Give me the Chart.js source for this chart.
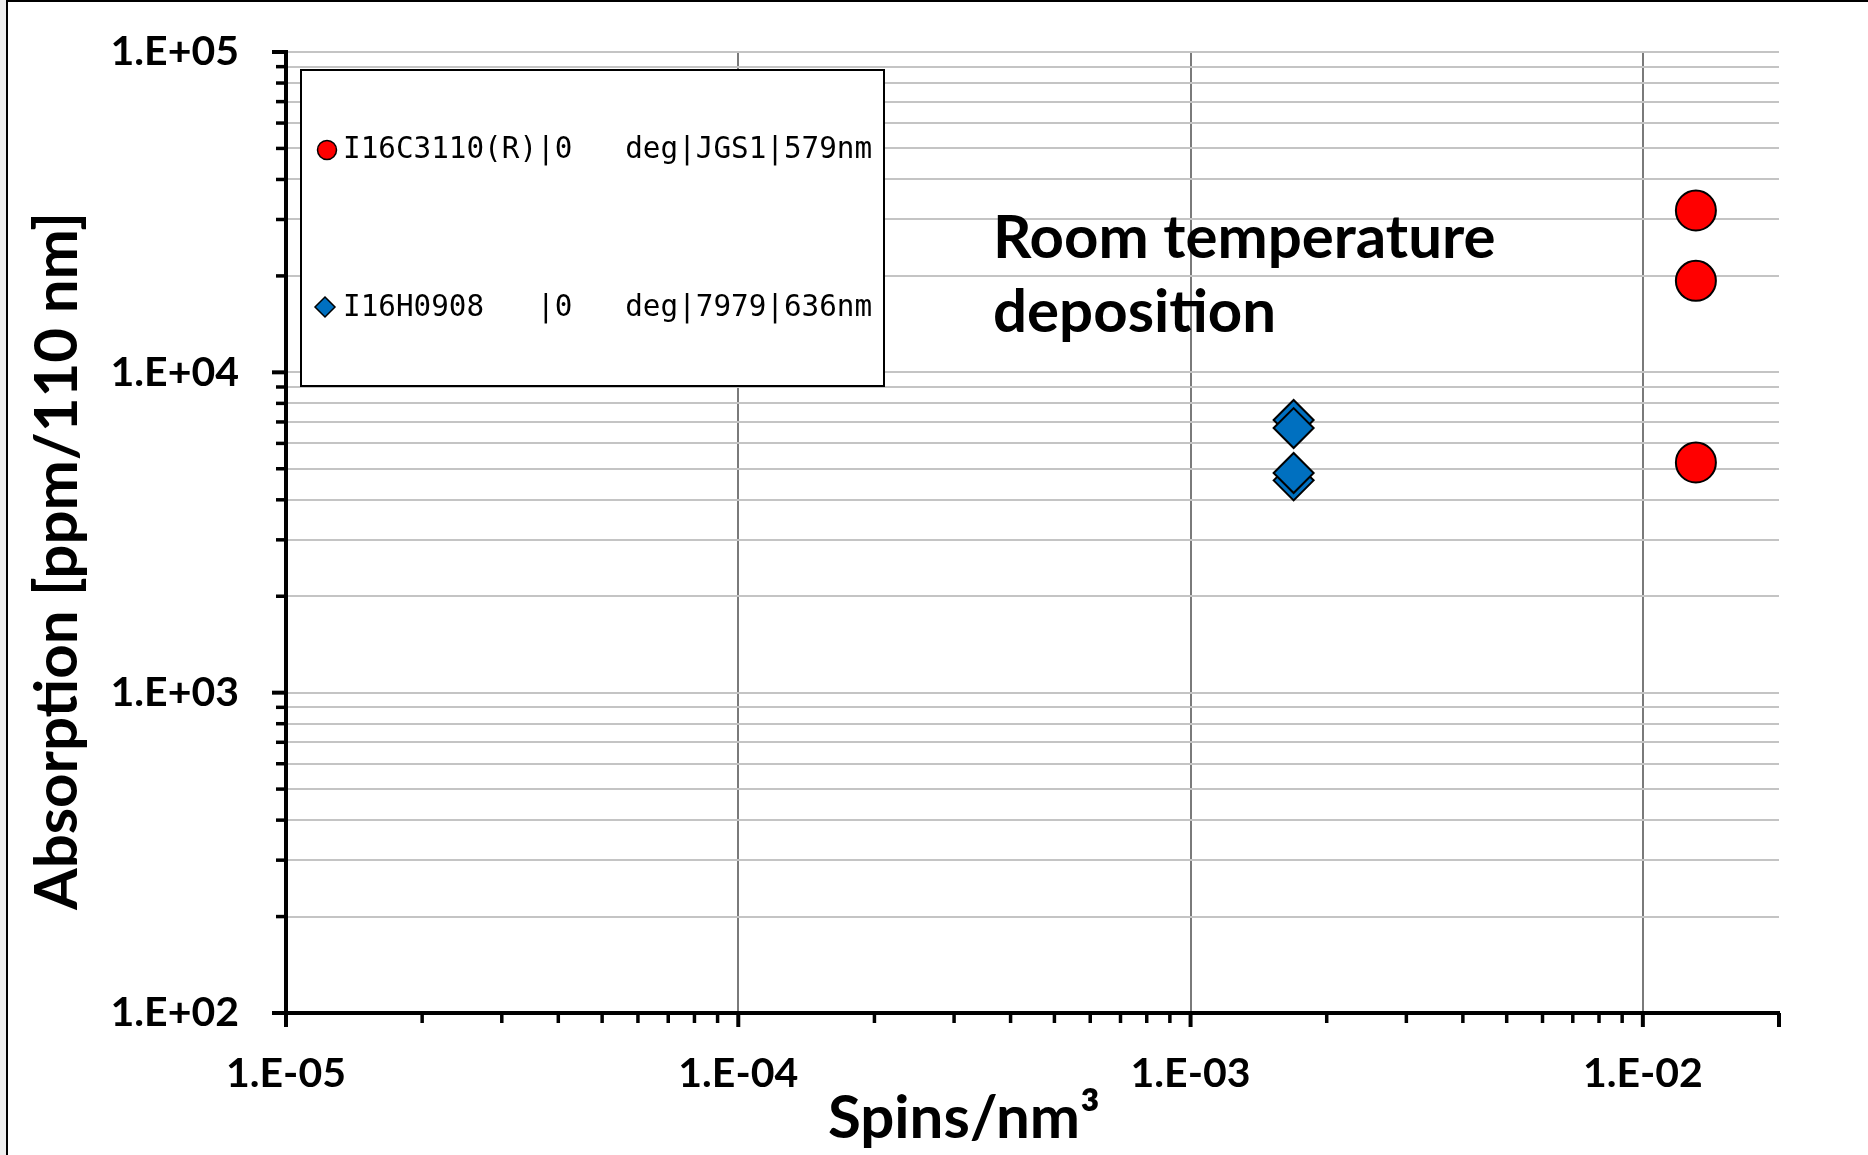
<!DOCTYPE html>
<html>
<head>
<meta charset="utf-8">
<title>Absorption vs spin density</title>
<script src="https://cdn.jsdelivr.net/npm/chart.js@4.4.1/dist/chart.umd.min.js"></script>
<style>
  html, body { margin: 0; padding: 0; background: #ffffff; }
  canvas { display: block; }
</style>
</head>
<body>
<canvas id="chart" width="1868" height="1155"></canvas>
<script>
// Axis decades and their printed labels
const xDecades = [1e-5, 1e-4, 1e-3, 1e-2];
const xTickLabels = ['1.E-05', '1.E-04', '1.E-03', '1.E-02'];
const yDecades = [1e2, 1e3, 1e4, 1e5];
const yTickLabels = ['1.E+02', '1.E+03', '1.E+04', '1.E+05'];
const xRange = [1e-5, 2e-2];
const yRange = [1e2, 1e5];

// Series names (legend text)
const seriesNames = [
  'I16C3110(R)|0   deg|JGS1|579nm',
  'I16H0908   |0   deg|7979|636nm'
];

// I16C3110(R): spins/nm^3 and absorption [ppm/110 nm]
const spinsC3110 = [0.0131, 0.0131, 0.0131];
const absorptionC3110 = [32000, 19300, 5230];

// I16H0908: spins/nm^3 and absorption [ppm/110 nm]
const spinsH0908 = [0.00169, 0.00169, 0.00169, 0.00169];
const absorptionH0908 = [7100, 6700, 4600, 4850];

const annotationLines = ['Room temperature', 'deposition'];
const xTitle = 'Spins/nm\u00B3';
const yTitle = 'Absorption [ppm/110 nm]';

function isDecade(v) {
  const l = Math.log10(v);
  return Math.abs(l - Math.round(l)) < 1e-9;
}

// 1..9 x 10^n tick positions covering [min, max]
function logTicks(min, max) {
  const out = [];
  for (let e = Math.floor(Math.log10(min)); e <= Math.ceil(Math.log10(max)); e++) {
    for (let m = 1; m <= 9; m++) {
      const v = parseFloat((m * Math.pow(10, e)).toPrecision(12));
      if (v >= min * (1 - 1e-9) && v <= max * (1 + 1e-9)) out.push(v);
    }
  }
  return out;
}

function labelFor(value, decades, labels) {
  const i = decades.findIndex(d => Math.abs(d - value) / d < 1e-6);
  return i >= 0 ? labels[i] : '';
}

const pairs = (xs, ys) => xs.map((x, i) => ({ x: x, y: ys[i] }));

// Page frame and white background
const framePlugin = {
  id: 'frame',
  beforeDraw(chart) {
    const ctx = chart.ctx;
    ctx.save();
    ctx.fillStyle = '#ffffff';
    ctx.fillRect(0, 0, chart.width, chart.height);
    ctx.fillStyle = '#efefef';
    ctx.fillRect(0, 0, 6, chart.height);
    ctx.fillStyle = '#000000';
    ctx.fillRect(6, 0, 2, chart.height);
    ctx.fillRect(6, 0, chart.width - 6, 2);
    ctx.restore();
  }
};

// Outside tick marks, legend box, axis titles and the text note
const decorPlugin = {
  id: 'decor',
  afterDraw(chart) {
    const ctx = chart.ctx;
    const a = chart.chartArea;
    const xs = chart.scales.x, ys = chart.scales.y;
    ctx.save();

    // tick marks
    ctx.strokeStyle = '#000000';
    ctx.lineCap = 'butt';
    ys.ticks.forEach(t => {
      const p = ys.getPixelForValue(t.value);
      const major = isDecade(t.value);
      ctx.lineWidth = major ? 4 : 3.5;
      ctx.beginPath();
      ctx.moveTo(a.left - (major ? 14 : 10), p);
      ctx.lineTo(a.left, p);
      ctx.stroke();
    });
    xs.ticks.forEach(t => {
      const p = xs.getPixelForValue(t.value);
      const major = isDecade(t.value) || Math.abs(t.value - xRange[1]) / xRange[1] < 1e-9;
      ctx.lineWidth = major ? 4 : 3.5;
      ctx.beginPath();
      ctx.moveTo(p, a.bottom);
      ctx.lineTo(p, a.bottom + (major ? 14 : 10));
      ctx.stroke();
    });

    // legend
    ctx.fillStyle = '#ffffff';
    ctx.fillRect(301, 70, 583, 316);
    ctx.strokeStyle = '#000000';
    ctx.lineWidth = 2;
    ctx.strokeRect(301, 70, 583, 316);

    const ds = chart.data.datasets;
    ctx.lineWidth = 1.5;
    ctx.fillStyle = ds[0].backgroundColor;
    ctx.beginPath();
    ctx.arc(327, 150, 9.5, 0, Math.PI * 2);
    ctx.fill();
    ctx.stroke();

    ctx.fillStyle = ds[1].backgroundColor;
    ctx.beginPath();
    ctx.moveTo(325, 297);
    ctx.lineTo(335, 307);
    ctx.lineTo(325, 317);
    ctx.lineTo(315, 307);
    ctx.closePath();
    ctx.fill();
    ctx.stroke();

    ctx.fillStyle = '#000000';
    ctx.font = '29.3px "DejaVu Sans Mono"';
    ctx.textAlign = 'left';
    ctx.textBaseline = 'alphabetic';
    ctx.fillText(ds[0].label, 343, 158);
    ctx.fillText(ds[1].label, 343, 316);

    // note
    ctx.font = 'bold 60px Lato';
    ctx.fillText(annotationLines[0], 993, 258);
    ctx.fillText(annotationLines[1], 993, 332);

    // x title
    ctx.font = 'bold 60px Lato';
    ctx.textAlign = 'center';
    ctx.fillText(xTitle, 964, 1138);

    // y title
    ctx.translate(77, 561);
    ctx.rotate(-Math.PI / 2);
    ctx.fillText(yTitle, 0, 0);

    ctx.restore();
  }
};

function build() {
  new Chart(document.getElementById('chart'), {
    type: 'scatter',
    data: {
      datasets: [
        {
          label: seriesNames[0],
          data: pairs(spinsC3110, absorptionC3110),
          pointStyle: 'circle',
          pointRadius: 20,
          pointHoverRadius: 20,
          backgroundColor: '#ff0000',
          borderColor: '#000000',
          borderWidth: 2,
          showLine: false
        },
        {
          label: seriesNames[1],
          data: pairs(spinsH0908, absorptionH0908),
          pointStyle: 'rectRot',
          pointRadius: 20,
          pointHoverRadius: 20,
          backgroundColor: '#0070c0',
          borderColor: '#000000',
          borderWidth: 2,
          showLine: false
        }
      ]
    },
    options: {
      responsive: false,
      animation: false,
      devicePixelRatio: 1,
      events: [],
      layout: { padding: { top: 52, right: 89, left: 0, bottom: 0 } },
      plugins: {
        legend: { display: false },
        tooltip: { enabled: false }
      },
      scales: {
        x: {
          type: 'logarithmic',
          position: 'bottom',
          min: xRange[0],
          max: xRange[1],
          afterBuildTicks: s => { s.ticks = logTicks(xRange[0], xRange[1]).map(v => ({ value: v })); },
          afterFit: s => { s.height = 142; s.paddingLeft = 0; s.paddingRight = 0; },
          grid: {
            drawTicks: false,
            lineWidth: 2,
            color: c => (c.tick && isDecade(c.tick.value)) ? '#7a7a7a' : 'rgba(0,0,0,0)'
          },
          border: { display: true, color: '#000000', width: 4 },
          ticks: {
            autoSkip: false,
            maxRotation: 0,
            minRotation: 0,
            padding: 36,
            color: '#000000',
            font: { family: 'Lato', weight: 'bold', size: 41 },
            callback: v => labelFor(v, xDecades, xTickLabels)
          },
          title: { display: false }
        },
        y: {
          type: 'logarithmic',
          position: 'left',
          min: yRange[0],
          max: yRange[1],
          afterBuildTicks: s => { s.ticks = logTicks(yRange[0], yRange[1]).map(v => ({ value: v })); },
          afterFit: s => { s.width = 286; s.paddingTop = 0; s.paddingBottom = 0; },
          grid: {
            drawTicks: false,
            lineWidth: 2,
            color: '#c4c4c4'
          },
          border: { display: true, color: '#000000', width: 4 },
          ticks: {
            autoSkip: false,
            padding: 47,
            color: '#000000',
            font: { family: 'Lato', weight: 'bold', size: 41 },
            callback: v => labelFor(v, yDecades, yTickLabels)
          },
          title: { display: false }
        }
      }
    },
    plugins: [framePlugin, decorPlugin]
  });
}

const fontLoads = document.fonts ? Promise.all([
  document.fonts.load('bold 41px Lato'),
  document.fonts.load('bold 60px Lato'),
  document.fonts.load('28px "DejaVu Sans Mono"')
]) : Promise.resolve();
fontLoads.then(build, build);
</script>
</body>
</html>
